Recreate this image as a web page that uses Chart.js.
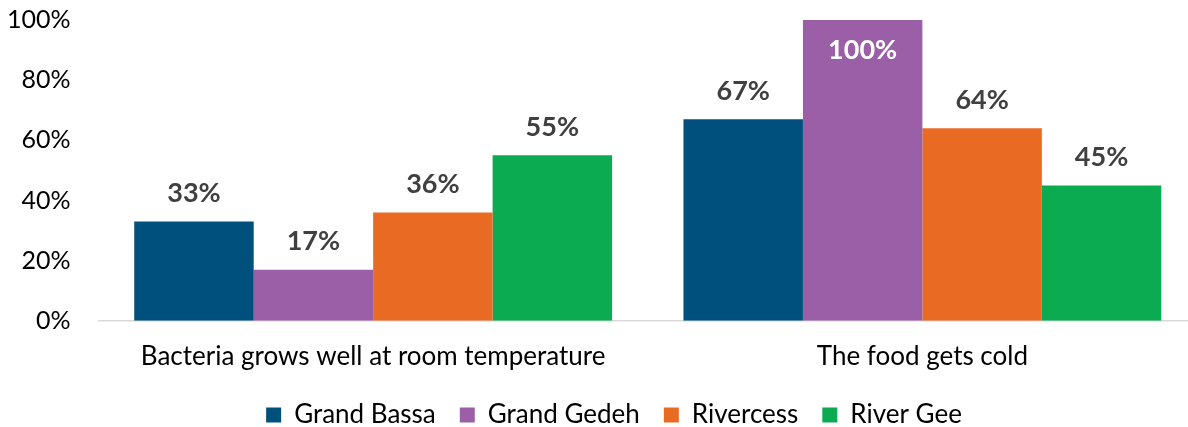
<!DOCTYPE html>
<html lang="en">
<head>
    <meta charset="UTF-8">
    <title>Food safety by county</title>
    <script src="https://cdn.jsdelivr.net/npm/chart.js@4.4.1/dist/chart.umd.min.js"></script>
    <style>
        html, body { margin: 0; background: #fff; overflow: hidden; }
        /* the original plot runs a little past the right edge, so the canvas is wider than the window */
        #wrap { width: 1197px; height: 427px; }
    </style>
</head>
<body>
<div id="wrap">
    <canvas id="myChart" width="1197" height="427"></canvas>
</div>
<script>
    // data
    const categories = ['Bacteria grows well at room temperature', 'The food gets cold'];
    const counties = ['Grand Bassa', 'Grand Gedeh', 'Rivercess', 'River Gee'];
    const grandBassa = [33, 67];
    const grandGedeh = [17, 100];
    const rivercess = [36, 64];
    const riverGee = [55, 45];
    const yTicks = [0, 20, 40, 60, 80, 100];

    const colors = ['#00507d', '#9b5fa7', '#e96a23', '#0aab51'];
    const series = [grandBassa, grandGedeh, rivercess, riverGee];

    const FONT = 'Lato, "Open Sans", sans-serif';

    // draw the value labels (no datalabels plugin here)
    const valueLabels = {
        id: 'valueLabels',
        afterDatasetsDraw(chart) {
            const ctx = chart.ctx;
            ctx.save();
            ctx.font = 'bold 27px ' + FONT;
            ctx.textAlign = 'center';
            ctx.textBaseline = 'middle';
            chart.data.datasets.forEach((ds, i) => {
                const meta = chart.getDatasetMeta(i);
                meta.data.forEach((bar, j) => {
                    const v = ds.data[j];
                    if (v >= 95) {
                        ctx.fillStyle = '#ffffff';
                        ctx.fillText(v + '%', bar.x, bar.y + 30);
                    } else {
                        ctx.fillStyle = '#404040';
                        ctx.fillText(v + '%', bar.x, bar.y - 28);
                    }
                });
            });
            ctx.restore();
        }
    };

    // legend sits a bit right of centre in the original
    const legendShift = {
        id: 'legendShift',
        afterLayout(chart) {
            chart.legend.left += 26;
            chart.legend.right += 26;
        }
    };

    new Chart(document.getElementById('myChart'), {
        type: 'bar',
        data: {
            labels: categories,
            datasets: counties.map((name, i) => ({
                label: name,
                data: series[i],
                backgroundColor: colors[i],
                categoryPercentage: 0.87,
                barPercentage: 1.0
            }))
        },
        options: {
            responsive: false,
            animation: false,
            layout: { padding: { top: 0, left: -21, right: 0, bottom: -11 } },
            scales: {
                x: {
                    grid: { display: false, drawTicks: false },
                    border: { display: true, color: '#d9d9d9', width: 1.5 },
                    ticks: { color: '#000', font: { family: FONT, size: 26 }, padding: 20 },
                    afterFit: s => { s.height -= 14; }
                },
                y: {
                    min: 0,
                    max: 100,
                    afterBuildTicks: axis => { axis.ticks = yTicks.map(v => ({ value: v })); },
                    grid: { display: false, drawTicks: false },
                    border: { display: false },
                    ticks: {
                        color: '#000',
                        font: { family: FONT, size: 25 },
                        padding: 28,
                        callback: v => v + '%'
                    },
                    afterFit: s => { s.paddingTop = 20; s.paddingBottom = 0; }
                }
            },
            plugins: {
                legend: {
                    position: 'bottom',
                    labels: {
                        color: '#000',
                        font: { family: FONT, size: 26 },
                        boxWidth: 15,
                        boxHeight: 15,
                        padding: 24
                    }
                },
                tooltip: { enabled: false }
            }
        },
        plugins: [valueLabels, legendShift]
    });
</script>
</body>
</html>
